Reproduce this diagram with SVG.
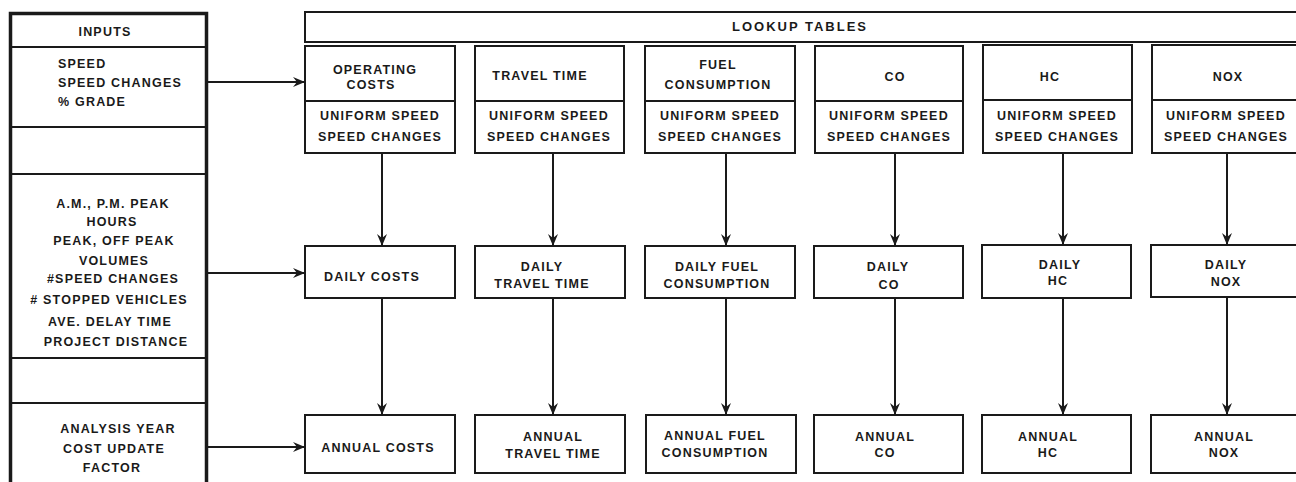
<svg xmlns="http://www.w3.org/2000/svg" width="1296" height="482" viewBox="0 0 1296 482">
<defs>
<style>
text{font-family:"Liberation Sans",Arial,sans-serif;font-weight:bold;font-size:12.5px;letter-spacing:1.2px;fill:#1a1a1a;text-anchor:middle;dominant-baseline:central}
.box{fill:none;stroke:#1a1a1a;stroke-width:2}
.thick{fill:none;stroke:#1a1a1a;stroke-width:3.5}
.line{stroke:#1a1a1a;stroke-width:2;fill:none}
.conn{stroke:#1a1a1a;stroke-width:2;fill:none;marker-end:url(#ah)}
.left{text-anchor:start}
</style>
<marker id="ah" viewBox="0 0 12 10" refX="11" refY="5" markerWidth="12" markerHeight="10" markerUnits="userSpaceOnUse" orient="auto">
<path d="M0,0 L12,5 L0,10 L4,5 z" fill="#1a1a1a"/>
</marker>
</defs>
<rect width="1296" height="482" fill="#ffffff"/>

<g id="inputs">
<rect class="thick" x="10.5" y="13.5" width="196" height="480"/>
<line class="line" x1="11" y1="47" x2="206" y2="47"/>
<line class="line" x1="11" y1="127" x2="206" y2="127"/>
<line class="line" x1="11" y1="174" x2="206" y2="174"/>
<line class="line" x1="11" y1="358" x2="206" y2="358"/>
<line class="line" x1="11" y1="403" x2="206" y2="403"/>
<text x="105" y="32">INPUTS</text>
<text class="left" x="58" y="64">SPEED</text>
<text class="left" x="58" y="83">SPEED CHANGES</text>
<text class="left" x="58" y="102">% GRADE</text>
<text x="113" y="204">A.M., P.M. PEAK</text>
<text x="112" y="222">HOURS</text>
<text x="114" y="241">PEAK, OFF PEAK</text>
<text x="114" y="261">VOLUMES</text>
<text x="113" y="279">#SPEED CHANGES</text>
<text x="109" y="300"># STOPPED VEHICLES</text>
<text x="110" y="322">AVE. DELAY TIME</text>
<text x="116" y="342">PROJECT DISTANCE</text>
<text x="118" y="429">ANALYSIS YEAR</text>
<text x="114" y="449">COST UPDATE</text>
<text x="112" y="468">FACTOR</text>
</g>

<g id="lookup-tables">
<rect class="box" x="305" y="12" width="1000" height="30"/>
<text x="800" y="26" style="font-size:13px;letter-spacing:2px">LOOKUP TABLES</text>
</g>

<g id="t-operating">
<rect class="box" x="305" y="46" width="150" height="107"/>
<line class="line" x1="305" y1="101" x2="455" y2="101"/>
<text x="375" y="70">OPERATING</text>
<text x="371" y="85">COSTS</text>
<text x="380" y="116">UNIFORM SPEED</text>
<text x="380" y="137">SPEED CHANGES</text>
</g>
<g id="t-travel">
<rect class="box" x="475" y="46" width="149" height="107"/>
<line class="line" x1="475" y1="101" x2="624" y2="101"/>
<text x="540" y="76">TRAVEL TIME</text>
<text x="549" y="116">UNIFORM SPEED</text>
<text x="549" y="137">SPEED CHANGES</text>
</g>
<g id="t-fuel">
<rect class="box" x="645" y="46" width="150" height="107"/>
<line class="line" x1="645" y1="101" x2="795" y2="101"/>
<text x="718" y="65">FUEL</text>
<text x="718" y="85">CONSUMPTION</text>
<text x="720" y="116">UNIFORM SPEED</text>
<text x="720" y="137">SPEED CHANGES</text>
</g>
<g id="t-co">
<rect class="box" x="815" y="46" width="148" height="107"/>
<line class="line" x1="815" y1="101" x2="963" y2="101"/>
<text x="895" y="77">CO</text>
<text x="889" y="116">UNIFORM SPEED</text>
<text x="889" y="137">SPEED CHANGES</text>
</g>
<g id="t-hc">
<rect class="box" x="983" y="45" width="149" height="108"/>
<line class="line" x1="983" y1="100" x2="1132" y2="100"/>
<text x="1050" y="77">HC</text>
<text x="1057" y="116">UNIFORM SPEED</text>
<text x="1057" y="137">SPEED CHANGES</text>
</g>
<g id="t-nox">
<rect class="box" x="1152" y="45" width="150" height="108"/>
<line class="line" x1="1152" y1="100" x2="1302" y2="100"/>
<text x="1228" y="77">NOX</text>
<text x="1226" y="116">UNIFORM SPEED</text>
<text x="1226" y="137">SPEED CHANGES</text>
</g>

<g id="d-costs">
<rect class="box" x="305" y="246" width="150" height="52"/>
<text x="372" y="277">DAILY COSTS</text>
</g>
<g id="d-travel">
<rect class="box" x="475" y="246" width="150" height="52"/>
<text x="542" y="267">DAILY</text>
<text x="542" y="284">TRAVEL TIME</text>
</g>
<g id="d-fuel">
<rect class="box" x="645" y="246" width="150" height="52"/>
<text x="717" y="267">DAILY FUEL</text>
<text x="717" y="284">CONSUMPTION</text>
</g>
<g id="d-co">
<rect class="box" x="814" y="246" width="149" height="52"/>
<text x="888" y="267">DAILY</text>
<text x="889" y="285">CO</text>
</g>
<g id="d-hc">
<rect class="box" x="982" y="245" width="149" height="53"/>
<text x="1060" y="265">DAILY</text>
<text x="1058" y="281">HC</text>
</g>
<g id="d-nox">
<rect class="box" x="1151" y="245" width="151" height="52"/>
<text x="1226" y="265">DAILY</text>
<text x="1226" y="282">NOX</text>
</g>

<g id="a-costs">
<rect class="box" x="305" y="415" width="150" height="58"/>
<text x="378" y="448">ANNUAL COSTS</text>
</g>
<g id="a-travel">
<rect class="box" x="475" y="415" width="150" height="58"/>
<text x="553" y="437">ANNUAL</text>
<text x="553" y="454">TRAVEL TIME</text>
</g>
<g id="a-fuel">
<rect class="box" x="646" y="415" width="150" height="58"/>
<text x="715" y="436">ANNUAL FUEL</text>
<text x="715" y="453">CONSUMPTION</text>
</g>
<g id="a-co">
<rect class="box" x="814" y="415" width="149" height="58"/>
<text x="885" y="437">ANNUAL</text>
<text x="885" y="453">CO</text>
</g>
<g id="a-hc">
<rect class="box" x="982" y="415" width="149" height="58"/>
<text x="1048" y="437">ANNUAL</text>
<text x="1048" y="453">HC</text>
</g>
<g id="a-nox">
<rect class="box" x="1151" y="415" width="151" height="58"/>
<text x="1224" y="437">ANNUAL</text>
<text x="1224" y="453">NOX</text>
</g>

<g id="connectors">
<line class="conn" x1="208" y1="82" x2="304" y2="82"/>
<line class="conn" x1="208" y1="273" x2="304" y2="273"/>
<line class="conn" x1="208" y1="447" x2="304" y2="447"/>
<line class="conn" x1="382" y1="153" x2="382" y2="245"/>
<line class="conn" x1="553" y1="153" x2="553" y2="245"/>
<line class="conn" x1="726" y1="153" x2="726" y2="245"/>
<line class="conn" x1="895" y1="153" x2="895" y2="245"/>
<line class="conn" x1="1063" y1="153" x2="1063" y2="244"/>
<line class="conn" x1="1227" y1="153" x2="1227" y2="244"/>
<line class="conn" x1="382" y1="298" x2="382" y2="414"/>
<line class="conn" x1="553" y1="298" x2="553" y2="414"/>
<line class="conn" x1="726" y1="298" x2="726" y2="414"/>
<line class="conn" x1="895" y1="298" x2="895" y2="414"/>
<line class="conn" x1="1063" y1="298" x2="1063" y2="414"/>
<line class="conn" x1="1227" y1="297" x2="1227" y2="414"/>
</g>
</svg>
